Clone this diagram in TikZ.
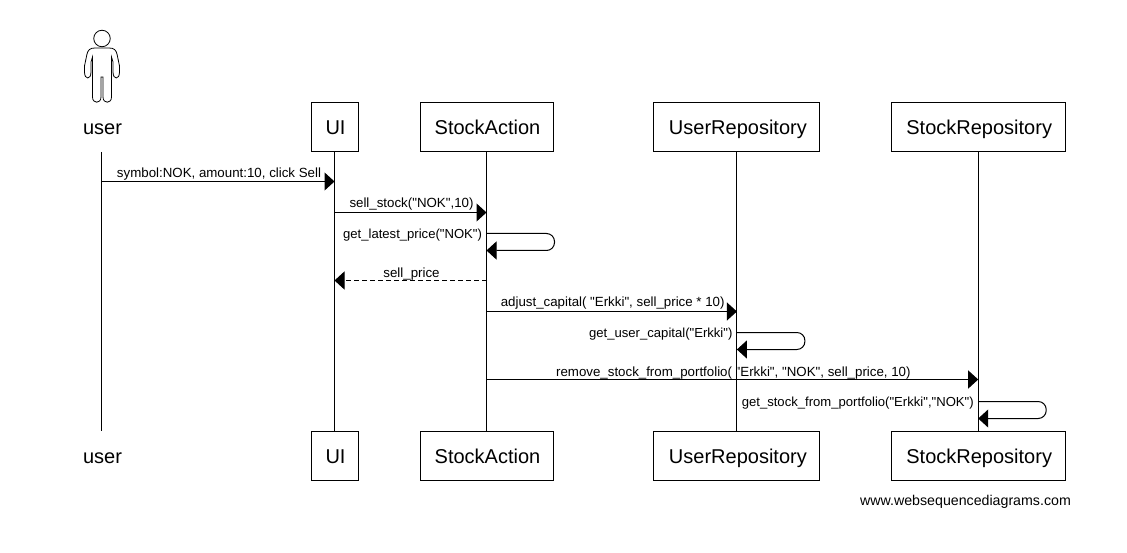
\documentclass[tikz,border=0pt]{standalone}
\usepackage{fontspec}
\newfontfamily\seqfont{Liberation Sans}
\usetikzlibrary{arrows.meta}
\tikzset{
    party/.style={draw, line width=1pt, minimum height=49pt, inner sep=0pt, text height=17pt, text depth=2pt, font=\seqfont\fontsize{20}{24}\selectfont, execute at begin node=\hspace*{2pt}},
    partytext/.style={party, draw=none},
    msg/.style={font=\seqfont\fontsize{13.3}{16}\selectfont, inner sep=0pt, text depth=0pt, xshift=1pt},
    selfmsg/.style={msg, font=\seqfont\fontsize{13.1}{16}\selectfont, anchor=base east, xshift=-5pt, yshift=-5pt},
    call/.style={line width=1pt, -{Triangle[length=10pt,width=18pt]}},
    reply/.style={call, dash pattern=on 5pt off 3pt}
}
\begin{document}
\begin{tikzpicture}[x=1pt,y=-1pt,line width=1pt]
            \useasboundingbox (0,0) rectangle (1127,553);
            % parties, top and bottom row
            \node[partytext] (usertop) at (101.5,127) {user};
            \node[partytext] (userbot) at (101.5,456) {user};
            \foreach \name/\title/\x/\w in {ui/UI/334.5/47,action/StockAction/486.5/133,userrepo/UserRepository/736.9/166,stockrepo/StockRepository/978.2/174}{
                \node[party, minimum width=\w pt] (\name top) at (\x,127) {\title};
                \node[party, minimum width=\w pt] (\name bot) at (\x,456) {\title};
                \draw (\name top.south)--(\name bot.north);
            }
            \draw (usertop.south)--(userbot.north);
            % actor
            \node[draw, circle, minimum size=16.5pt, inner sep=0pt, line width=0.8pt] (head) at (102,38.5) {};
            \draw[line width=0.8pt] (95,48)--(109,48) .. controls (114,48) and (116,50) .. (117,54)
                -- (119.5,66)--(119.5,72) .. controls (119.5,80) and (113,80) .. (113,72)--(113,62)--(111.5,57)--(111.5,97)
                .. controls (111.5,104) and (103,104) .. (103,97)--(103,77)--(101,77)--(101,97)
                .. controls (101,104) and (92.5,104) .. (92.5,97)--(92.5,57)--(91,62)--(91,72)
                .. controls (91,80) and (84.5,80) .. (84.5,72)--(84.5,66)--(87,54) .. controls (88,50) and (90,48) .. (95,48);
            % forward messages
            \foreach \a/\b/\y/\lift/\txt in {
                usertop/uitop/181.5/3/{symbol:NOK, amount:10, click Sell},
                uitop/actiontop/212.5/4/{sell\_stock("NOK",10)},
                actiontop/userrepotop/311.5/5/{adjust\_capital( "Erkki", sell\_price * 10)},
                actiontop/stockrepotop/379.5/3/{remove\_stock\_from\_portfolio( "Erkki", "NOK", sell\_price, 10)}}{
                \coordinate (\a\b from) at (\a.south |- 0,\y);
                \coordinate (\a\b to) at (\b.south |- 0,\y);
                \draw[call] (\a\b from)--(\a\b to) node[msg, midway, above=\lift pt] {\txt};
            }
            % reply
            \coordinate (replyfrom) at (actiontop.south |- 0,280.5);
            \coordinate (replyto) at (uitop.south |- 0,280.5);
            \draw[reply] (replyfrom)--(replyto) node[msg, midway, above=2.5pt] {sell\_price};
            % calls to self
            \foreach \a/\y/\txt in {
                action/233.5/{get\_latest\_price("NOK")},
                userrepo/332.5/{get\_user\_capital("Erkki")},
                stockrepo/401.5/{get\_stock\_from\_portfolio("Erkki","NOK")}}{
                \coordinate (\a start) at (\a top.south |- 0,\y);
                \coordinate (\a end) at (\a top.south |- 0,\y+17);
                \draw[call, rounded corners=8pt] (\a start)--++(68,0)--++(0,17)--(\a end);
                \node[selfmsg] (\a label) at (\a start) {\txt};
            }
            \node[font=\seqfont\fontsize{14.2}{18}\selectfont, inner sep=0pt] (credit) at (965.5,502) {www.websequencediagrams.com};
        \end{tikzpicture}
\end{document}
